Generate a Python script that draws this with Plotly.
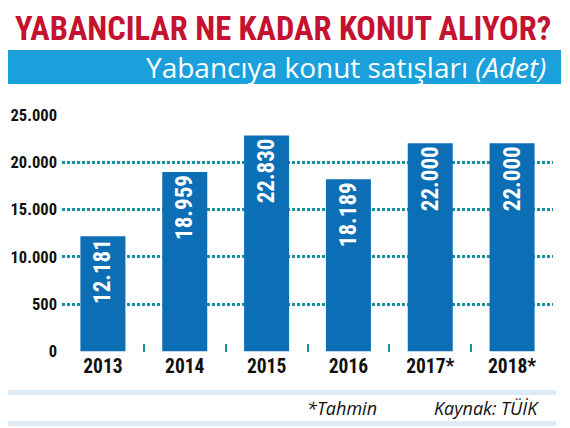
import plotly.graph_objects as go

# Yabancıya konut satışları (Adet), TÜİK
years = ['2013', '2014', '2015', '2016', '2017*', '2018*']
sales = [12181, 18959, 22830, 18189, 22000, 22000]
sales_labels = ['12.181', '18.959', '22.830', '18.189', '22.000', '22.000']

y_tickvals = [0, 5000, 10000, 15000, 20000, 25000]
y_ticktext = ['0', '500', '10.000', '15.000', '20.000', '25.000']

# page body adds an 8px margin, so the figure is 8px smaller than the window
OFF = 8
W, H = 570 - OFF, 428 - OFF
COND = 'Roboto Condensed, Roboto, sans-serif'
HUMAN = 'Open Sans, Noto Sans, sans-serif'
TEAL = '#17909f'


def px(x):
    return (x - OFF) / W


def py(y):
    return 1 - (y - OFF) / H


fig = go.Figure()

fig.add_trace(go.Bar(
    x=years,
    y=sales,
    text=sales_labels,
    textposition='inside',
    insidetextanchor='end',
    textangle=-90,
    textfont=dict(family=COND, size=23, color='white', weight='bold'),
    marker=dict(color='#0c6eb4', line=dict(width=0)),
    hoverinfo='skip',
))

fig.update_layout(
    width=W, height=H,
    margin=dict(l=0, r=0, t=0, b=0),
    paper_bgcolor='white',
    plot_bgcolor='white',
    showlegend=False,
    bargap=0.45,
    xaxis=dict(
        domain=[px(62), px(553)],
        range=[-0.5, 5.5],
        type='category',
        automargin=False,
        tickson='boundaries',
        ticks='inside',
        ticklen=8,
        tickwidth=1.5,
        tickcolor=TEAL,
        showgrid=False,
        showline=False,
        tickfont=dict(family=COND, size=19.5, color='#111111', weight='bold'),
    ),
    yaxis=dict(
        domain=[py(352), py(115)],
        range=[-80, 25000],
        automargin=False,
        tickvals=y_tickvals,
        ticktext=y_ticktext,
        showgrid=True,
        gridcolor=TEAL,
        gridwidth=2.5,
        griddash='3px,2px',
        zeroline=False,
        showline=False,
        ticks='',
        ticklabelstandoff=4,
        tickfont=dict(family=COND, size=16.5, color='#111111', weight='bold'),
    ),
)

# headline
fig.add_annotation(
    x=px(283), y=py(8), xref='paper', yref='paper',
    text='YABANCILAR NE KADAR KONUT ALIYOR?',
    showarrow=False, xanchor='center', yanchor='top',
    font=dict(family=COND, size=32.5, color='#c41230', weight='bold'),
)

# blue banner with subtitle
fig.add_shape(
    type='rect', xref='paper', yref='paper',
    x0=px(8), x1=px(561), y0=py(84), y1=py(50),
    fillcolor='#1ba0dc', line=dict(width=0), layer='below',
)
fig.add_annotation(
    x=px(548), y=py(67), xref='paper', yref='paper',
    text='Yabancıya konut satışları <i>(Adet)</i>',
    showarrow=False, xanchor='right', yanchor='middle',
    font=dict(family=HUMAN, size=28, color='white'),
)

# footer bands and notes
for top, bottom in [(390, 395), (421, 426)]:
    fig.add_shape(
        type='rect', xref='paper', yref='paper',
        x0=px(7), x1=px(556), y0=py(bottom), y1=py(top),
        fillcolor='#dcebf6', line=dict(width=0), layer='below',
    )
fig.add_annotation(
    x=px(305), y=py(408), xref='paper', yref='paper',
    text='<i>*Tahmin</i>', showarrow=False, xanchor='left', yanchor='middle',
    font=dict(family=HUMAN, size=18, color='#111111'),
)
fig.add_annotation(
    x=px(541), y=py(408), xref='paper', yref='paper',
    text='<i>Kaynak: TÜİK</i>', showarrow=False, xanchor='right', yanchor='middle',
    font=dict(family=HUMAN, size=18, color='#111111'),
)

fig.write_html('out.html')
